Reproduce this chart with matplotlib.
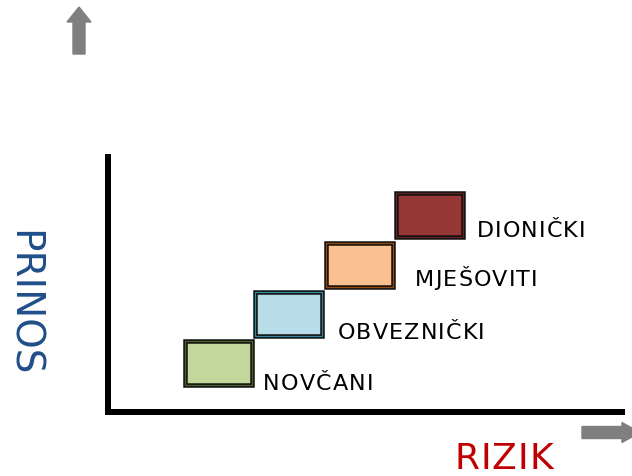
"""Risk / return staircase of fund types (NOVČANI -> DIONIČKI)."""
import matplotlib
matplotlib.use("Agg")
import matplotlib.pyplot as plt
from matplotlib import font_manager
from matplotlib.ft2font import FT2Font
from matplotlib.patches import Rectangle, FancyArrow
from matplotlib.transforms import IdentityTransform

# --- data --------------------------------------------------------------------
funds = ["NOVČANI", "OBVEZNIČKI", "MJEŠOVITI", "DIONIČKI"]
risk = [1, 2, 3, 4]          # position along RIZIK
ret = [1, 2, 3, 4]           # position along PRINOS
fills = ["#C3D69B", "#B7DEE8", "#FAC090", "#953735"]
shades = ["#4F6228", "#31859C", "#984807", "#632523"]

# --- layout (pixels) -----------------------------------------------------------
W, H, DPI = 632, 477, 100
label_dx = [9, 13, 20, 11]     # gap between box and label
label_dy = [6.5, 8, 12, 11.5]  # label centre above box bottom
BOX_W, BOX_H = 0.95, 0.894     # in data units

fig = plt.figure(figsize=(W / DPI, H / DPI), dpi=DPI)
ax = fig.add_axes([107.5 / W, (H - 413) / H, (622 - 107.5) / W, (413 - 158) / H])
ax.set_xlim(-0.574, 6.724)
ax.set_ylim(0.004, 5.187)
ax.set_xticks([]); ax.set_yticks([])
for side in ("top", "right"):
    ax.spines[side].set_visible(False)
for side in ("left", "bottom"):
    ax.spines[side].set_linewidth(6 * 72 / DPI)
    ax.spines[side].set_color("black")
ax.patch.set_alpha(0)

lw_out = 4.5 * 72 / DPI
for r, y, fc, sc in zip(risk, ret, fills, shades):
    ax.add_patch(Rectangle((r - BOX_W / 2, y - BOX_H / 2), BOX_W, BOX_H,
                           facecolor=fc, edgecolor="#111111", lw=lw_out, clip_on=False))
    ax.add_patch(Rectangle((r - BOX_W / 2, y - BOX_H / 2), BOX_W, BOX_H,
                           facecolor="none", edgecolor=sc, lw=0.9, clip_on=False))


def tracked_text(x, y, s, size, color, track):
    """Draw s with extra letter spacing; x, y in display pixels (baseline)."""
    prop = font_manager.FontProperties(family="DejaVu Sans", size=size)
    font = FT2Font(font_manager.findfont(prop))
    font.set_size(size, DPI)
    for ch in s:
        fig.text(x, y, ch, transform=IdentityTransform(), fontproperties=prop,
                 color=color, ha="left", va="baseline")
        x += font.load_char(ord(ch)).linearHoriAdvance / 65536 + track


LABEL_PT = 16
cap = LABEL_PT * DPI / 72 * 0.729
for name, r, y, dx, dy in zip(funds, risk, ret, label_dx, label_dy):
    rx, by = ax.transData.transform((r + BOX_W / 2, y - BOX_H / 2))
    cy = by - 2.25 + dy
    tracked_text(rx + 2.25 + dx, cy - cap / 2, name, LABEL_PT, "black", 1.1)

# axis titles
rz_pt = 26
tracked_text(454, H - 455.5 - rz_pt * DPI / 72 * 0.729 / 2, "RIZIK", rz_pt, "#C00000", 1.0)
fig.text(23 / W, 1 - 303.5 / H, "PRINOS", rotation=270, fontsize=28,
         color="#1F4E89", ha="center", va="center")

# decorative arrows
gray = "#7F7F7F"
fig.patches.append(FancyArrow(79, H - 55, 0, 47, width=12, head_width=24,
                              head_length=15, length_includes_head=True,
                              color=gray, transform=IdentityTransform()))
fig.patches.append(FancyArrow(582, H - 433.5, 58, 0, width=12, head_width=20,
                              head_length=18, length_includes_head=True,
                              color=gray, transform=IdentityTransform()))

fig.savefig("out.png", dpi=DPI)
